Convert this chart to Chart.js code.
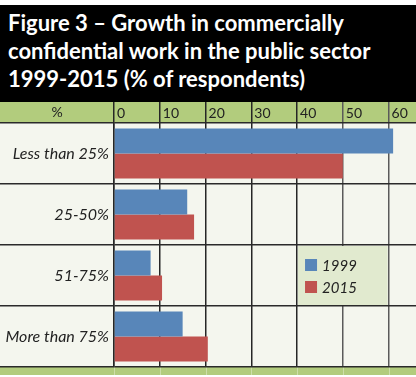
<!DOCTYPE html>
<html>
<head>
<meta charset="utf-8">
<script src="https://cdn.jsdelivr.net/npm/chart.js@4.4.1/dist/chart.umd.min.js"></script>
<style>
    body { margin: 0; background: #fff; width: 416px; height: 377px; overflow: hidden; position: relative; font-family: Lato, sans-serif; }
    #wrap { position: absolute; left: 0; top: 0; width: 416px; height: 377px; }
    #head {
        position: absolute; left: 0; top: 5px; width: 416px; height: 97px;
        background: #000; color: #fff; font-weight: bold; font-size: 22px; line-height: 28px;
        padding: 4px 0 0 8px; box-sizing: border-box; white-space: nowrap;
    }
</style>
</head>
<body>
<div id="wrap"><canvas id="myChart"></canvas></div>
<div id="head">Figure 3 – Growth in commercially<br>confidential work in the public sector<br>1999-2015 (% of respondents)</div>
<script>
const categories = ['Less than 25%', '25-50%', '51-75%', 'More than 75%'];
const seriesNames = ['1999', '2015'];
const values1999 = [61, 16, 8, 15];
const values2015 = [50, 17.5, 10.5, 20.5];
const xTicks = [0, 10, 20, 30, 40, 50, 60];
const axisLabel = '%';

const blue = '#5886b9';
const red = '#c0534f';
const cream = '#f4f6ee';
const green = '#b2cc7d';

// bands behind the plot: cream body, green header strip and footer strip
const bands = {
    id: 'bands',
    beforeDraw(chart) {
        const {ctx, chartArea, scales: {x, y}} = chart;
        const w = chart.width;
        ctx.save();
        ctx.fillStyle = cream;
        ctx.fillRect(0, x.top, w, chartArea.bottom - x.top);
        ctx.fillStyle = green;
        ctx.fillRect(0, x.top, w, x.bottom - x.top);
        ctx.fillRect(0, chartArea.bottom, w, 8);
        ctx.fillStyle = '#222';
        ctx.font = '14px Lato';
        ctx.textAlign = 'center';
        ctx.textBaseline = 'middle';
        ctx.fillText(axisLabel, y.left + y.width / 2, (x.top + x.bottom) / 2);
        // faint tick lines through the footer strip
        ctx.strokeStyle = 'rgba(255,255,255,0.35)';
        ctx.lineWidth = 1;
        xTicks.forEach(v => {
            const px = Math.round(x.getPixelForValue(v)) + 0.5;
            ctx.beginPath();
            ctx.moveTo(px, chartArea.bottom);
            ctx.lineTo(px, chartArea.bottom + 8);
            ctx.stroke();
        });
        ctx.restore();
    }
};

// legend sits in the 51-75% row between 40 and 60
const boxLegend = {
    id: 'boxLegend',
    afterDraw(chart) {
        const {ctx, scales: {x, y}} = chart;
        const x0 = x.getPixelForValue(40) + 1;
        const x1 = x.getPixelForValue(60) - 1;
        const y0 = y.getPixelForValue(1.5) + 1;
        const y1 = y.getPixelForValue(2.5) - 1;
        ctx.save();
        ctx.fillStyle = '#e1eacf';
        ctx.fillRect(x0, y0, x1 - x0, y1 - y0);
        ctx.font = 'italic 15px Lato';
        ctx.textBaseline = 'middle';
        chart.data.datasets.forEach((ds, i) => {
            const cy = y0 + 19 + i * 22;
            ctx.fillStyle = ds.backgroundColor;
            ctx.fillRect(x0 + 7, cy - 6, 12, 12);
            ctx.fillStyle = '#222';
            ctx.fillText(ds.label, x0 + 24, cy + 1);
        });
        ctx.restore();
    }
};

new Chart(document.getElementById('myChart'), {
    type: 'bar',
    data: {
        labels: categories,
        datasets: [
            {label: seriesNames[0], data: values1999, backgroundColor: blue},
            {label: seriesNames[1], data: values2015, backgroundColor: red}
        ]
    },
    options: {
        indexAxis: 'y',
        responsive: true,
        maintainAspectRatio: false,
        animation: false,
        layout: {padding: {top: 102, left: 0, right: 0, bottom: 10}},
        datasets: {bar: {categoryPercentage: 0.82, barPercentage: 1}},
        plugins: {legend: {display: false}, tooltip: {enabled: false}},
        scales: {
            x: {
                position: 'top',
                min: 0,
                max: 66,
                z: 1,
                afterFit(scale) { scale.height = 21; },
                afterBuildTicks(scale) { scale.ticks = xTicks.map(v => ({value: v})); },
                grid: {
                    color: ctx => (ctx.tick && ctx.tick.value >= 50) ? '#5a5a5a' : '#262626',
                    lineWidth: 1.5,
                    drawTicks: true,
                    tickLength: 21
                },
                border: {display: false},
                ticks: {
                    align: 'start',
                    labelOffset: 3,
                    padding: -20,
                    color: '#222',
                    font: {family: 'Lato', size: 14}
                }
            },
            y: {
                afterFit(scale) { scale.width = 114; },
                grid: {
                    color: '#2a2a2a',
                    lineWidth: 1.5,
                    drawTicks: true,
                    tickLength: 114
                },
                border: {display: true, color: '#262626', width: 1.5},
                ticks: {
                    padding: -109,
                    color: '#222',
                    font: {family: 'Lato', size: 16, style: 'italic'}
                }
            }
        }
    },
    plugins: [bands, boxLegend]
});
</script>
</body>
</html>
